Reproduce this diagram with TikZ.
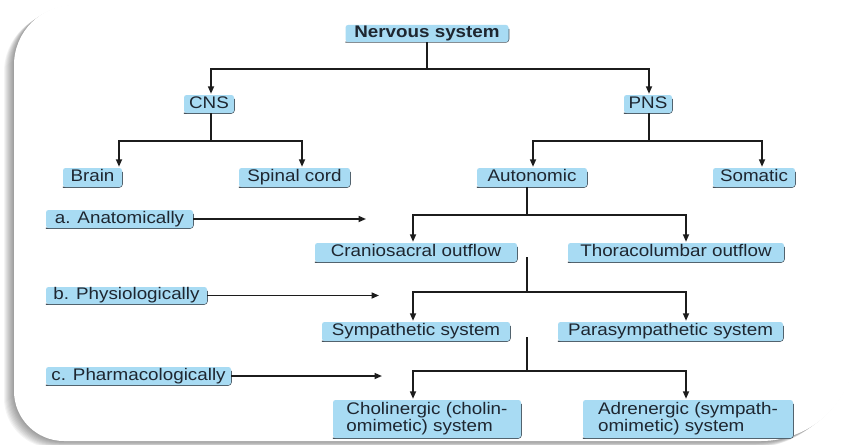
\documentclass[tikz,border=0pt]{standalone}
\usepackage{fontspec}
\setmainfont{Liberation Sans}[FakeStretch=1.12]
\usetikzlibrary{arrows.meta,calc}
\definecolor{boxblue}{RGB}{168,219,243}
\definecolor{edgegray}{RGB}{70,82,92}
\definecolor{txt}{RGB}{30,38,48}
\definecolor{lncol}{RGB}{28,28,28}
\newcommand\myframe{(14,200) [rounded corners=60pt] |- (450,5) [rounded corners=70pt] -| (856,220) [rounded corners=95pt] |- (450,441) [rounded corners=50pt] -| (14,200) -- cycle}
\begin{document}
\begin{tikzpicture}[x=1pt,y=-1pt,
  bxbase/.style={fill=boxblue, rounded corners=2.5pt, inner sep=0pt, text=txt,
    font=\fontsize{16.8}{17}\selectfont,
    append after command={\pgfextra{\draw[edgegray, line width=1.1pt, rounded corners=3pt]
      ([yshift=-4pt]\tikzlastnode.north east) -- (\tikzlastnode.south east) -- (\tikzlastnode.south west);}}},
  bx/.style={bxbase, text height=11.5pt, text depth=3pt},
  bxtwo/.style={bxbase, align=left, minimum height=38pt},
  ln/.style={draw=lncol, line width=1.6pt},
  arr/.style={ln, -{Triangle[length=7.5pt,width=6pt]}, shorten >=1pt}]
\useasboundingbox (0,0) rectangle (858,444);
\fill[white] (0,0) rectangle (858,444);
% frame with soft shadow
\foreach \i in {1,...,10}{
  \fill[black, opacity=0.045] [shift={(-1.0*\i pt, -0.7*\i pt)}] \myframe;
}
\fill[white] \myframe;

% nodes
\node[bx, minimum width=163pt, minimum height=17pt] (ns) at (427,33.5) {\bfseries Nervous system};
\node[bx, minimum width=50pt, minimum height=18pt] (cns) at (209,104) {CNS};
\node[bx, minimum width=48pt, minimum height=18pt] (pns) at (648,104) {PNS};
\node[bx, minimum width=59pt, minimum height=19pt] (brain) at (92.5,177.5) {Brain};
\node[bx, minimum width=111pt, minimum height=19pt] (spinal) at (294.5,177.5) {Spinal cord};
\node[bx, minimum width=110pt, minimum height=19pt] (auto) at (532,177.5) {Autonomic};
\node[bx, minimum width=82pt, minimum height=19pt] (soma) at (754,177.5) {Somatic};
\node[bx, minimum width=147pt, minimum height=18pt] (anat) at (119.5,219) {a. Anatomically};
\node[bx, minimum width=161pt, minimum height=17pt] (phys) at (126.5,295.5) {b. Physiologically};
\node[bx, minimum width=185pt, minimum height=18pt] (pharm) at (138.5,376) {c. Pharmacologically};
\node[bx, minimum width=202pt, minimum height=19pt] (cran) at (416,252.5) {Craniosacral outflow};
\node[bx, minimum width=216pt, minimum height=19pt] (thor) at (676,252.5) {Thoracolumbar outflow};
\node[bx, minimum width=188pt, minimum height=19pt] (symp) at (416,331.5) {Sympathetic system};
\node[bx, minimum width=225pt, minimum height=19pt] (para) at (670.5,331.5) {Parasympathetic system};
\node[bxtwo, minimum width=188pt] (chol) at (427,419) {Cholinergic (cholin-\\omimetic) system};
\node[bxtwo, minimum width=210pt] (adr) at (688,419) {Adrenergic (sympath-\\omimetic) system};

% junctions
\coordinate (j1) at (427,69);
\coordinate (jc) at (211,141);
\coordinate (jp) at (649,141);
\coordinate (ja) at (527,215);
\coordinate (s1) at (527,257);
\coordinate (j4) at (527,292);
\coordinate (s2) at (527,337);
\coordinate (j5) at (527,371);
\coordinate (ae) at (367,219);
\coordinate (pe) at (380,295.5);
\coordinate (he) at (383,376);

% connectors
\draw[ln] (ns) -- (j1);
\draw[arr] (j1) -| ([xshift=2pt]cns.north);
\draw[arr] (j1) -| ([xshift=1pt]pns.north);
\draw[ln] ([xshift=2pt]cns.south) -- (jc);
\draw[arr] (jc) -| ([xshift=26.5pt]brain.north);
\draw[arr] (jc) -| ([xshift=7.5pt]spinal.north);
\draw[ln] ([xshift=1pt]pns.south) -- (jp);
\draw[arr] (jp) -| ([xshift=1pt]auto.north);
\draw[arr] (jp) -| ([xshift=8pt]soma.north);
\draw[ln] ([xshift=-5pt]auto.south) -- (ja);
\draw[arr] (ja) -| ([xshift=-3pt]cran.north);
\draw[arr] (ja) -| ([xshift=10pt]thor.north);
\draw[ln] (s1) -- (j4);
\draw[arr] (j4) -| ([xshift=-3pt]symp.north);
\draw[arr] (j4) -| ([xshift=15.5pt]para.north);
\draw[ln] (s2) -- (j5);
\draw[arr] (j5) -| ([xshift=-14pt]chol.north);
\draw[arr] (j5) -| ([xshift=-2pt]adr.north);
\draw[arr] (anat) -- (ae);
\draw[arr] (phys) -- (pe);
\draw[arr] (pharm) -- (he);
\end{tikzpicture}
\end{document}
